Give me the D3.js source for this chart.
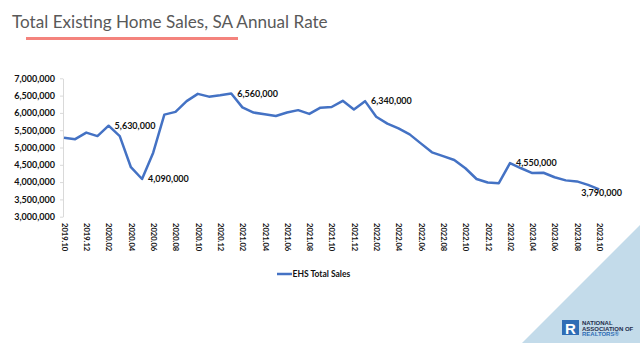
<!DOCTYPE html>
<html>
<head>
<meta charset="utf-8">
<script src="https://cdn.jsdelivr.net/npm/d3@7"></script>
<style>
  body { margin: 0; background: #fff; }
  svg { display: block; }
</style>
</head>
<body>
<svg width="640" height="343"></svg>
<script>
// months shown on the x axis (one point per month)
const months = [
  "2019.10","2019.11","2019.12","2020.01","2020.02","2020.03","2020.04","2020.05","2020.06",
  "2020.07","2020.08","2020.09","2020.10","2020.11","2020.12","2021.01","2021.02","2021.03",
  "2021.04","2021.05","2021.06","2021.07","2021.08","2021.09","2021.10","2021.11","2021.12",
  "2022.01","2022.02","2022.03","2022.04","2022.05","2022.06","2022.07","2022.08","2022.09",
  "2022.10","2022.11","2022.12","2023.01","2023.02","2023.03","2023.04","2023.05","2023.06",
  "2023.07","2023.08","2023.09","2023.10"
];
// EHS total sales, SA annual rate
const sales = [
  5280000, 5240000, 5430000, 5330000, 5630000, 5330000, 4430000, 4090000, 4850000,
  5950000, 6030000, 6340000, 6550000, 6470000, 6510000, 6560000, 6160000, 6010000,
  5960000, 5910000, 6010000, 6080000, 5970000, 6150000, 6170000, 6350000, 6100000,
  6340000, 5890000, 5690000, 5550000, 5380000, 5120000, 4860000, 4750000, 4640000,
  4400000, 4090000, 3990000, 3970000, 4550000, 4400000, 4260000, 4270000, 4140000,
  4050000, 4020000, 3920000, 3790000
];
const xTickLabels = months.filter((d, i) => i % 2 === 0);
const yTicks = [3000000, 3500000, 4000000, 4500000, 5000000, 5500000, 6000000, 6500000, 7000000];
const labelled = ["2020.02", "2020.05", "2021.01", "2022.01", "2023.02", "2023.10"];
const seriesName = "EHS Total Sales";
const title = "Total Existing Home Sales, SA Annual Rate";

const svg = d3.select("svg");
const fnt = "Lato, 'Open Sans', sans-serif";

// logo triangle background
svg.append("path")
  .attr("d", "M640,225 L640,343 L522,343 Z")
  .attr("fill", "#c3dbea");

// title
const t = svg.append("text")
  .attr("x", 12).attr("y", 28)
  .attr("font-family", fnt)
  .attr("font-size", 19)
  .attr("fill", "#595959")
  .text(title);
const tw = t.node().getComputedTextLength();
t.attr("font-size", 19 * 316 / tw);

svg.append("line")
  .attr("x1", 26).attr("x2", 238).attr("y1", 38.5).attr("y2", 38.5)
  .attr("stroke", "#f4837d").attr("stroke-width", 3);

const x = d3.scalePoint().domain(months).range([64, 599.2]);
const y = d3.scaleLinear().domain([3000000, 7000000]).range([216.7, 78.3]);

// y axis
const ya = svg.append("g")
  .attr("transform", "translate(63,0)")
  .call(d3.axisLeft(y).tickValues(yTicks).tickFormat(d3.format(",")).tickSize(3).tickSizeOuter(0).tickPadding(5));
ya.select(".domain").attr("stroke", "#d9d9d9");
ya.selectAll(".tick line").attr("stroke", "#d9d9d9");
ya.selectAll("text")
  .attr("font-family", fnt).attr("font-weight", "bold")
  .attr("font-size", 9).attr("fill", "#111");

// x axis
const xa = svg.append("g")
  .attr("transform", "translate(0,222)")
  .call(d3.axisBottom(x).tickValues(xTickLabels).tickSize(0).tickPadding(0));
xa.select(".domain").remove();
xa.selectAll("text")
  .attr("font-family", fnt).attr("font-weight", "bold")
  .attr("font-size", 7.6).attr("fill", "#111")
  .attr("text-anchor", "start")
  .attr("transform", "rotate(90)")
  .attr("x", 1).attr("y", 0).attr("dy", "0.35em");

// line
const pts = months.map((m, i) => ({ m: m, v: sales[i] }));
svg.append("path")
  .datum(pts)
  .attr("fill", "none")
  .attr("stroke", "#4472c4")
  .attr("stroke-width", 2.5)
  .attr("stroke-linejoin", "round")
  .attr("d", d3.line().x(d => x(d.m)).y(d => y(d.v)));

// data labels
svg.append("g").selectAll("text")
  .data(pts.filter(d => labelled.includes(d.m)))
  .join("text")
  .attr("x", (d, i, n) => i === n.length - 1 ? x(d.m) - 18 : x(d.m) + 6)
  .attr("y", (d, i, n) => i === n.length - 1 ? y(d.v) + 7 : y(d.v) + 3)
  .attr("font-family", fnt).attr("font-weight", "bold")
  .attr("font-size", 9).attr("fill", "#111")
  .text(d => d3.format(",")(d.v));

// legend
svg.append("line")
  .attr("x1", 277).attr("x2", 292).attr("y1", 274).attr("y2", 274)
  .attr("stroke", "#4472c4").attr("stroke-width", 2.5);
svg.append("text")
  .attr("x", 292.5).attr("y", 277)
  .attr("font-family", fnt).attr("font-weight", "bold")
  .attr("font-size", 8.5).attr("fill", "#111")
  .text(seriesName);

// NAR logo
const logo = svg.append("g");
logo.append("rect").attr("x", 562).attr("y", 320).attr("width", 17).attr("height", 15).attr("fill", "#2f6db5");
logo.append("text")
  .attr("x", 570.5).attr("y", 333.5).attr("text-anchor", "middle")
  .attr("font-family", "'Liberation Sans', sans-serif").attr("font-weight", "bold")
  .attr("font-size", 15).attr("fill", "#fff").text("R");
[["NATIONAL", 325, "#1f2d4d"], ["ASSOCIATION OF", 330.5, "#1f2d4d"], ["REALTORS\u00ae", 336, "#2f6db5"]]
  .forEach(r => logo.append("text")
    .attr("x", 582).attr("y", r[1])
    .attr("font-family", "'Liberation Sans', sans-serif").attr("font-weight", "bold")
    .attr("font-size", 6).attr("fill", r[2]).text(r[0]));
</script>
</body>
</html>
